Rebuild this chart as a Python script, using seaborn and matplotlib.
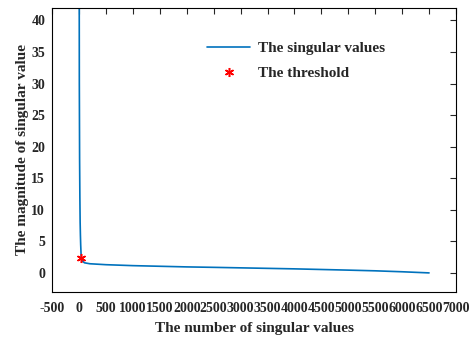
import seaborn as sns
import matplotlib.pyplot as plt
import pandas as pd

# singular value curve
idx = [1, 5, 10, 15, 20, 25, 30, 40, 60, 100, 200, 500, 1000, 1500, 2000,
       2500, 3000, 3500, 4000, 4500, 5000, 5500, 6000, 6500]
sv = [60, 30, 18, 12, 8, 6, 4.5, 2.4, 1.9, 1.6, 1.45, 1.3, 1.15, 1.05, 0.95,
      0.88, 0.8, 0.72, 0.64, 0.54, 0.44, 0.33, 0.18, 0.0]
thr_x = [40]
thr_y = [2.4]

data = pd.DataFrame({"n": idx, "sv": sv})

sns.set_style("white")
plt.rcParams["font.family"] = ["Liberation Serif", "DejaVu Serif"]
plt.rcParams["font.weight"] = "bold"
plt.rcParams["axes.unicode_minus"] = False

fig = plt.figure(figsize=(4.74, 3.37), dpi=100)
ax = fig.add_axes([0.11, 0.134, 0.852, 0.843])

sns.lineplot(data=data, x="n", y="sv", ax=ax, color="#0072BD", linewidth=1.2,
             label="The singular values")
ax.plot(thr_x, thr_y, linestyle="none", marker=(6, 2, 0), color="red",
        markersize=6.5, markeredgewidth=1.1, label="The threshold")

ax.set_xlim(-500, 7000)
ax.set_ylim(-3, 42)
ax.set_xticks(range(-500, 7001, 500))
ax.set_yticks(range(0, 41, 5))
ax.tick_params(direction="in", top=True, right=True, labelsize=10, length=4,
               width=0.8)
ax.tick_params(axis="x", pad=7)
ax.tick_params(axis="y", pad=5)
for lab in ax.get_xticklabels() + ax.get_yticklabels():
    lab.set_fontweight("bold")
for s in ax.spines.values():
    s.set_color("black")
    s.set_linewidth(0.8)

ax.set_xlabel("The number of singular values", fontsize=11, fontweight="bold", labelpad=5)
ax.set_ylabel("The magnitude of singular value", fontsize=11, fontweight="bold", labelpad=2)

ax.legend(loc="upper left", bbox_to_anchor=(0.35, 0.93), frameon=False,
          prop={"size": 11, "weight": "bold"}, handlelength=2.8,
          handletextpad=0.5, labelspacing=0.75)

plt.savefig("out.png", dpi=100)
plt.close()
